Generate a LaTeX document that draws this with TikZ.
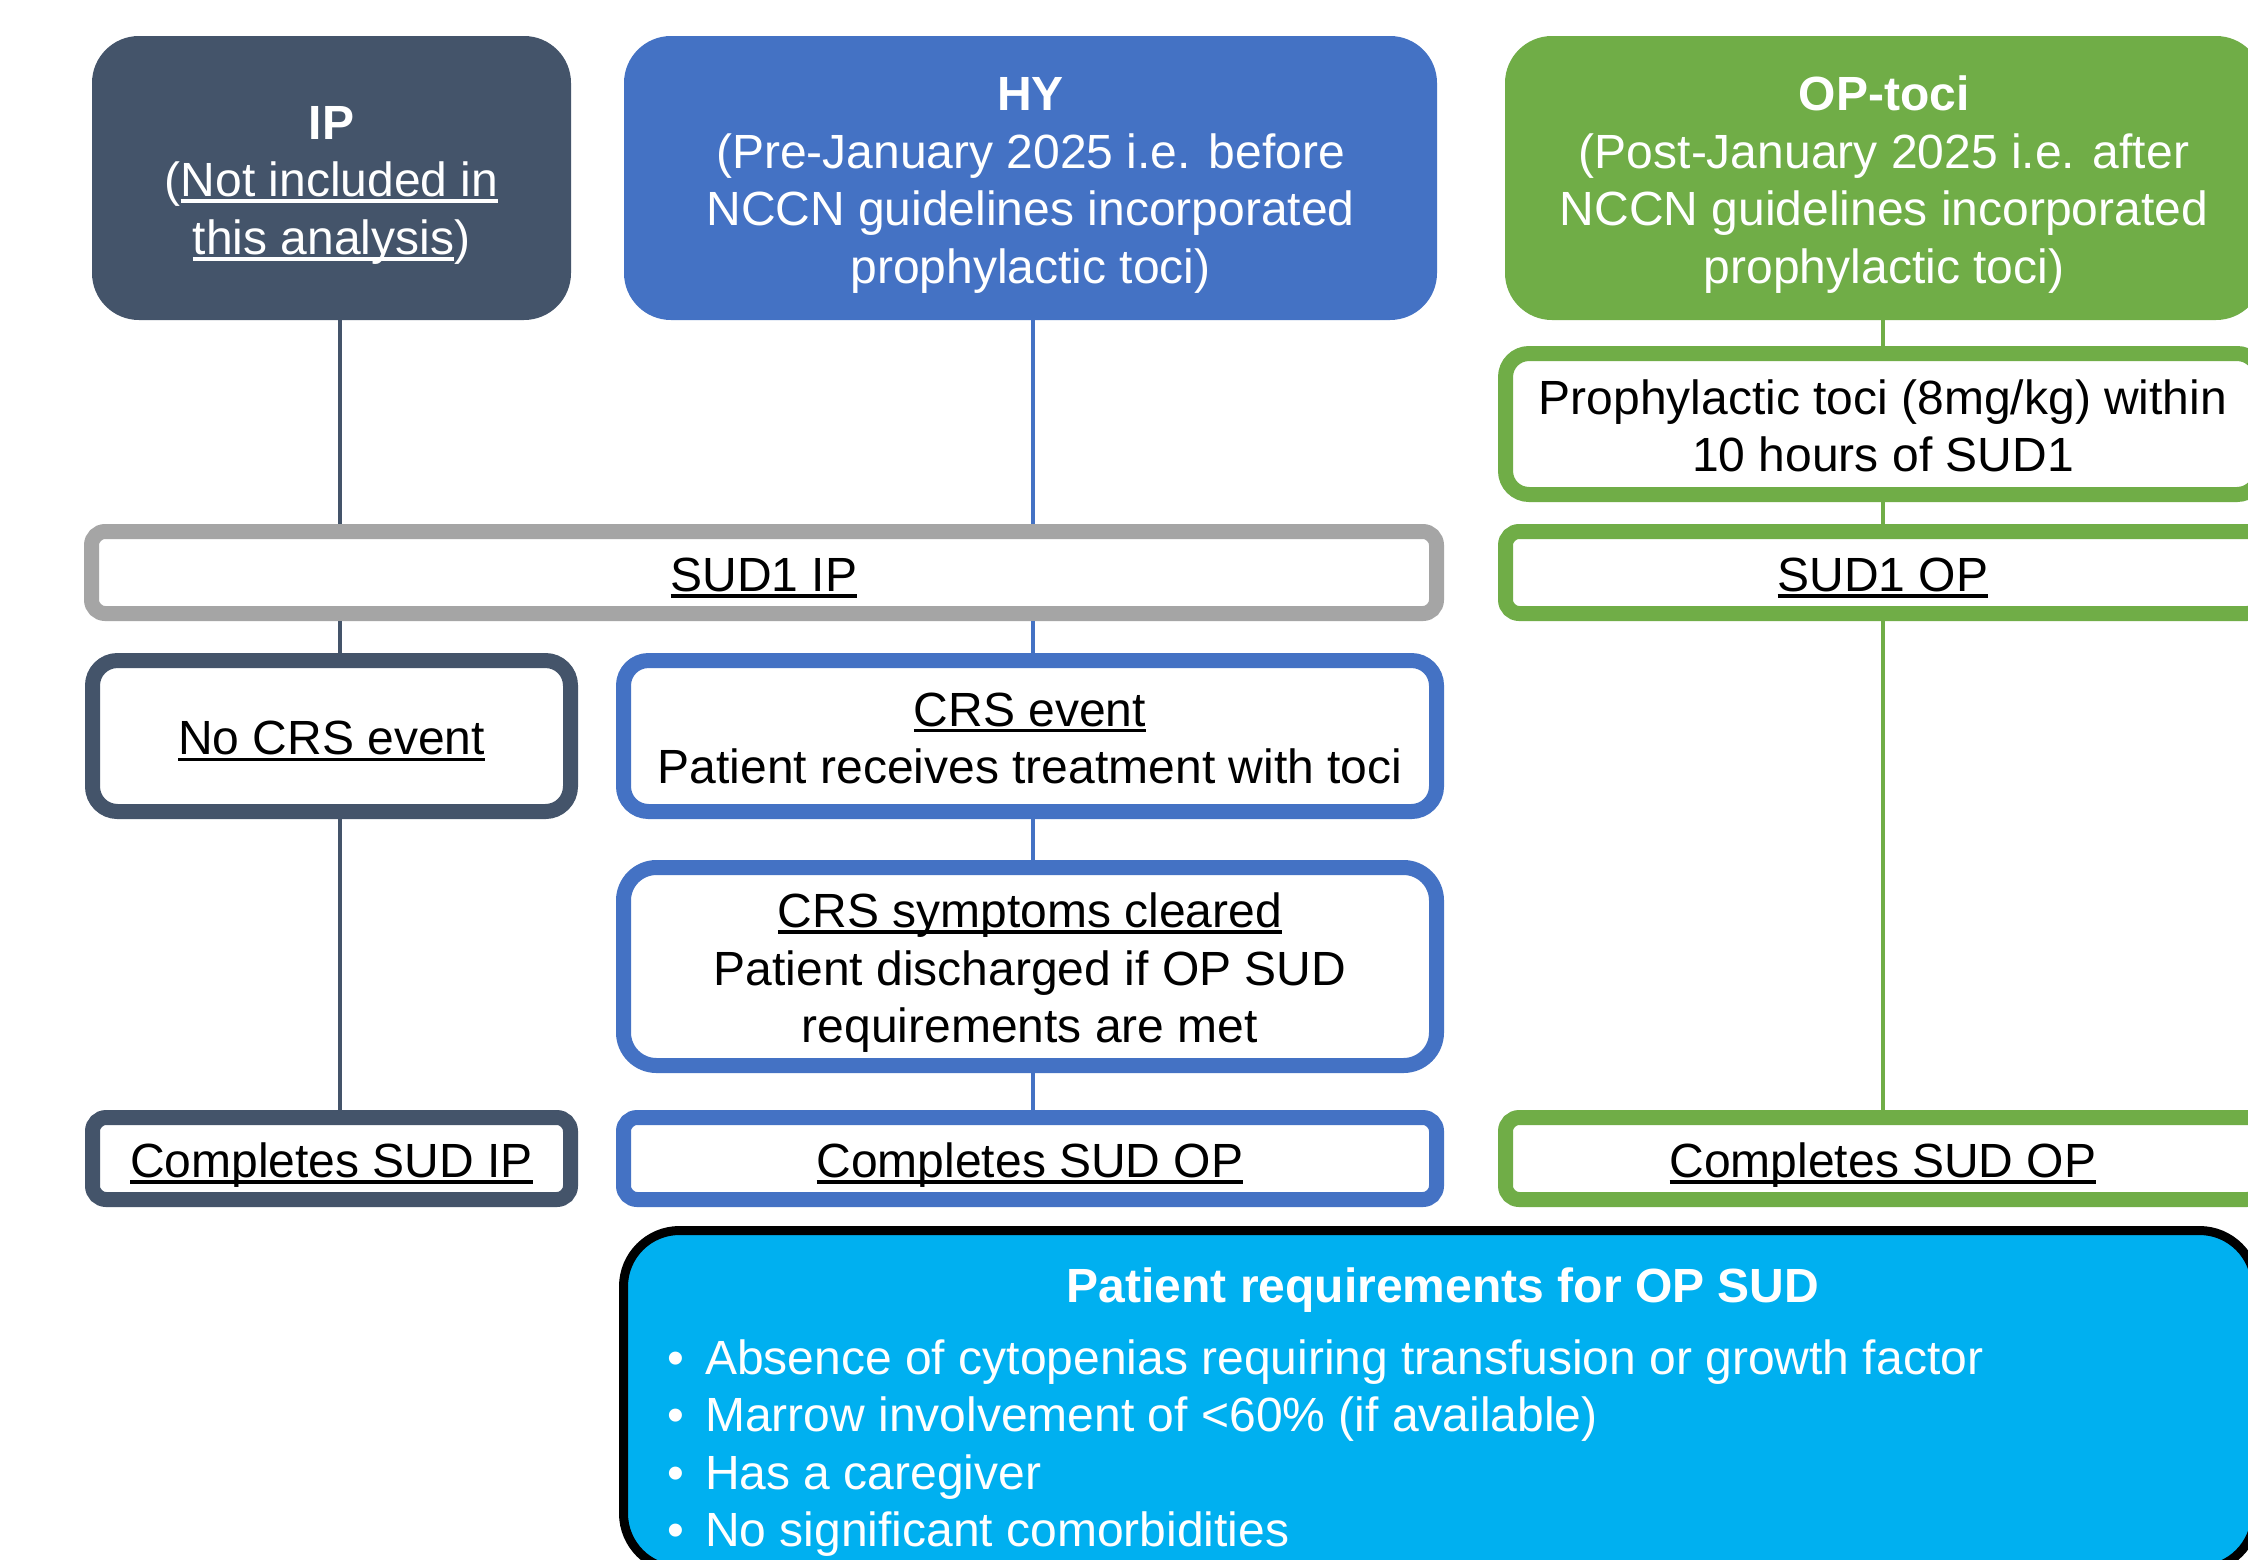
\documentclass[tikz,border=0pt]{standalone}
\usepackage{fontspec}
\setmainfont{Liberation Sans}
\definecolor{ipc}{HTML}{44546A}
\definecolor{hyc}{HTML}{4472C4}
\definecolor{opc}{HTML}{70AD47}
\definecolor{grc}{HTML}{A5A5A5}
\definecolor{rqc}{HTML}{00B0F0}
\newlength\ulwd
\newcommand\myul[1]{\settowidth{\ulwd}{#1}\makebox[0pt][l]{\rule[-0.13em]{\ulwd}{0.075em}}#1}
\newcommand\stt{\rule[-0.2em]{0pt}{1.19em}}
\tikzset{
  txt/.style={font=\fontsize{48}{57.5}\selectfont, align=center, inner sep=0pt},
  topbox/.style={txt, fill=#1, text=white, rounded corners=47pt, minimum height=284pt},
  sbox/.style={txt, draw=#1, line width=15pt, fill=white, text=black},
  conn/.style={line width=4.5pt},
}
\begin{document}
\begin{tikzpicture}[x=1pt,y=-1pt]
\useasboundingbox (0,0) rectangle (2248,1559);
\fill[white] (0,0) rectangle (2248,1559);
\clip (0,0) rectangle (2248,1559);

% column coordinates for connectors
\coordinate (cIP) at (340,0);
\coordinate (cHY) at (1033,0);
\coordinate (cOP) at (1883,0);

% top headers
\node[topbox=ipc, minimum width=479pt] (ip) at (331.5,178)
  {\stt\textbf{IP}\\\stt(\myul{Not included in}\\\stt\myul{this analysis})};
\node[topbox=hyc, minimum width=813pt] (hy) at (1030.5,178)
  {\stt\textbf{HY}\\\stt(Pre-January 2025 i.e. before\\\stt NCCN guidelines incorporated\\\stt prophylactic toci)};
\node[topbox=opc, minimum width=758pt] (op) at (1884,178)
  {\stt\textbf{OP-toci}\\\stt(Post-January 2025 i.e. after\\\stt NCCN guidelines incorporated\\\stt prophylactic toci)};

% prophylactic toci
\node[sbox=opc, minimum width=755pt, minimum height=141pt, rounded corners=23.5pt] (proph) at (1883,424)
  {\stt Prophylactic toci (8mg/kg) within\\\stt 10 hours of SUD1};

% SUD1 row
\node[sbox=grc, minimum width=1345pt, minimum height=82pt, rounded corners=13.7pt] (sudip) at (764,572.5)
  {\stt\myul{SUD1 IP}};
\node[sbox=opc, minimum width=755pt, minimum height=82pt, rounded corners=13.7pt] (sudop) at (1883,572.5)
  {\stt\myul{SUD1 OP}};

% CRS row
\node[sbox=ipc, minimum width=478pt, minimum height=151pt, rounded corners=25pt] (nocrs) at (331.5,736)
  {\stt\myul{No CRS event}};
\node[sbox=hyc, minimum width=813pt, minimum height=151pt, rounded corners=25pt] (crs) at (1030,736)
  {\stt\myul{CRS event}\\\stt Patient receives treatment with toci};
\node[sbox=hyc, minimum width=813pt, minimum height=198pt, rounded corners=33pt] (crsclr) at (1030,966.5)
  {\stt\myul{CRS symptoms cleared}\\\stt Patient discharged if OP SUD\\\stt requirements are met};

% completes row
\node[sbox=ipc, minimum width=478pt, minimum height=82pt, rounded corners=13.7pt] (compip) at (331.5,1158.5)
  {\stt\myul{Completes SUD IP}};
\node[sbox=hyc, minimum width=813pt, minimum height=82pt, rounded corners=13.7pt] (comphy) at (1030,1158.5)
  {\stt\myul{Completes SUD OP}};
\node[sbox=opc, minimum width=755pt, minimum height=82pt, rounded corners=13.7pt] (compop) at (1883,1158.5)
  {\stt\myul{Completes SUD OP}};

% requirements box
\node[draw=black, line width=9pt, fill=rqc, rounded corners=56pt, minimum width=1632pt, minimum height=339pt, inner sep=0pt] (req) at (1439.5,1400) {};
\node[txt, text=white, font={\fontsize{48}{57.5}\selectfont\bfseries}, anchor=base] (reqt) at (1443,1302) {Patient requirements for OP SUD};
\node[txt, text=white, anchor=base west] (b1) at (667,1374) {\makebox[38pt][l]{•}Absence of cytopenias requiring transfusion or growth factor};
\node[txt, text=white, anchor=base west] (b2) at (667,1431.5) {\makebox[38pt][l]{•}Marrow involvement of <60\% (if available)};
\node[txt, text=white, anchor=base west] (b3) at (667,1489) {\makebox[38pt][l]{•}Has a caregiver};
\node[txt, text=white, anchor=base west] (b4) at (667,1546.5) {\makebox[38pt][l]{•}No significant comorbidities};

% connectors
\draw[conn, ipc] (ip.south -| cIP) -- (sudip.north -| cIP);
\draw[conn, ipc] (sudip.south -| cIP) -- (nocrs.north -| cIP);
\draw[conn, ipc] (nocrs.south -| cIP) -- (compip.north -| cIP);
\draw[conn, hyc] (hy.south -| cHY) -- (sudip.north -| cHY);
\draw[conn, hyc] (sudip.south -| cHY) -- (crs.north -| cHY);
\draw[conn, hyc] (crs.south -| cHY) -- (crsclr.north -| cHY);
\draw[conn, hyc] (crsclr.south -| cHY) -- (comphy.north -| cHY);
\draw[conn, opc] (op.south -| cOP) -- (proph.north -| cOP);
\draw[conn, opc] (proph.south -| cOP) -- (sudop.north -| cOP);
\draw[conn, opc] (sudop.south -| cOP) -- (compop.north -| cOP);
\end{tikzpicture}
\end{document}
